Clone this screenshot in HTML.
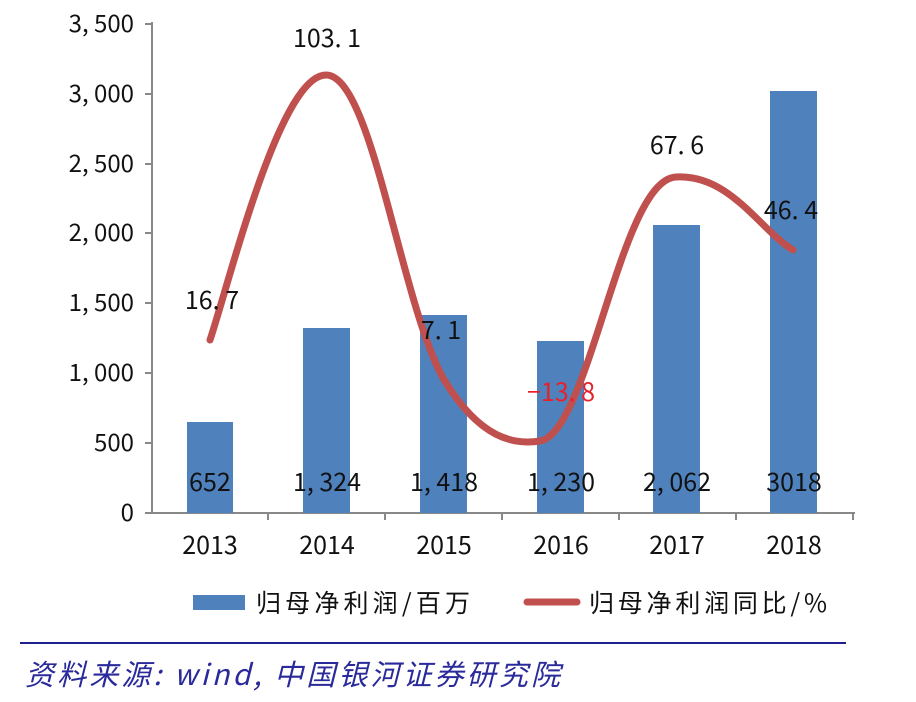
<!DOCTYPE html>
<html><head><meta charset="utf-8"><style>
body{margin:0;background:#fff;}
svg{display:block;}
text{font-family:"Noto Sans CJK SC","Liberation Sans",sans-serif;}
</style></head><body>
<svg width="916" height="702" viewBox="0 0 916 702">
<rect width="916" height="702" fill="#fff"/>
<g stroke="#888" stroke-width="2">
<line x1="152" y1="22" x2="152" y2="514"/>
<line x1="151" y1="513" x2="855" y2="513"/>
<line x1="145" y1="24" x2="152" y2="24"/>
<line x1="145" y1="94" x2="152" y2="94"/>
<line x1="145" y1="164" x2="152" y2="164"/>
<line x1="145" y1="233" x2="152" y2="233"/>
<line x1="145" y1="303" x2="152" y2="303"/>
<line x1="145" y1="373" x2="152" y2="373"/>
<line x1="145" y1="443" x2="152" y2="443"/>
<line x1="145" y1="513" x2="152" y2="513"/>
<line x1="268" y1="513" x2="268" y2="520"/>
<line x1="385" y1="513" x2="385" y2="520"/>
<line x1="502" y1="513" x2="502" y2="520"/>
<line x1="619" y1="513" x2="619" y2="520"/>
<line x1="736" y1="513" x2="736" y2="520"/>
<line x1="853" y1="513" x2="853" y2="520"/>
</g>
<g font-size="24" fill="#111" text-anchor="end">
<text x="134" y="32">3, 500</text>
<text x="134" y="102">3, 000</text>
<text x="134" y="172">2, 500</text>
<text x="134" y="241">2, 000</text>
<text x="134" y="311">1, 500</text>
<text x="134" y="381">1, 000</text>
<text x="134" y="451">500</text>
<text x="134" y="521">0</text>
</g>
<g fill="#4f81bd">
<rect x="187" y="422" width="46" height="91"/>
<rect x="303" y="328" width="47" height="185"/>
<rect x="420" y="315" width="47" height="198"/>
<rect x="537" y="341" width="47" height="172"/>
<rect x="653" y="225" width="47" height="288"/>
<rect x="770" y="91" width="47" height="422"/>
</g>
<path d="M210,340 C230,280 280,75 326,75 C372,75 400,300 443,378 C480,440 515,445 540,441 C590,432 620,180 676,177 C730,174 760,230 793,250" fill="none" stroke="#c0504d" stroke-width="7" stroke-linecap="round"/>
<g font-size="25" fill="#111" text-anchor="middle">
<text x="210" y="491">652</text>
<text x="327" y="491">1, 324</text>
<text x="444" y="491">1, 418</text>
<text x="561" y="491">1, 230</text>
<text x="677" y="491">2, 062</text>
<text x="794" y="491">3018</text>
<text x="212" y="309">16. 7</text>
<text x="327" y="47">103. 1</text>
<text x="441" y="339">7. 1</text>
<text x="561" y="401" fill="#e8202a">−13. 8</text>
<text x="677" y="154">67. 6</text>
<text x="791" y="219">46. 4</text>
<text x="210" y="554">2013</text>
<text x="327" y="554">2014</text>
<text x="444" y="554">2015</text>
<text x="561" y="554">2016</text>
<text x="677" y="554">2017</text>
<text x="794" y="554">2018</text>
</g>
<rect x="193" y="595" width="52" height="15" fill="#4f81bd"/>
<line x1="527" y1="602" x2="577" y2="602" stroke="#c0504d" stroke-width="7" stroke-linecap="round"/>
<g font-size="25" fill="#111">
<text x="256" y="612" textLength="214">归母净利润/百万</text>
<text x="589" y="612" textLength="238">归母净利润同比/%</text>
</g>
<line x1="20" y1="643" x2="846" y2="643" stroke="#1f1f8f" stroke-width="2"/>
<text x="25" y="685" font-size="29" fill="#2a2a9a" font-style="italic" textLength="535">资料来源: wind, 中国银河证券研究院</text>
</svg>
</body></html>
